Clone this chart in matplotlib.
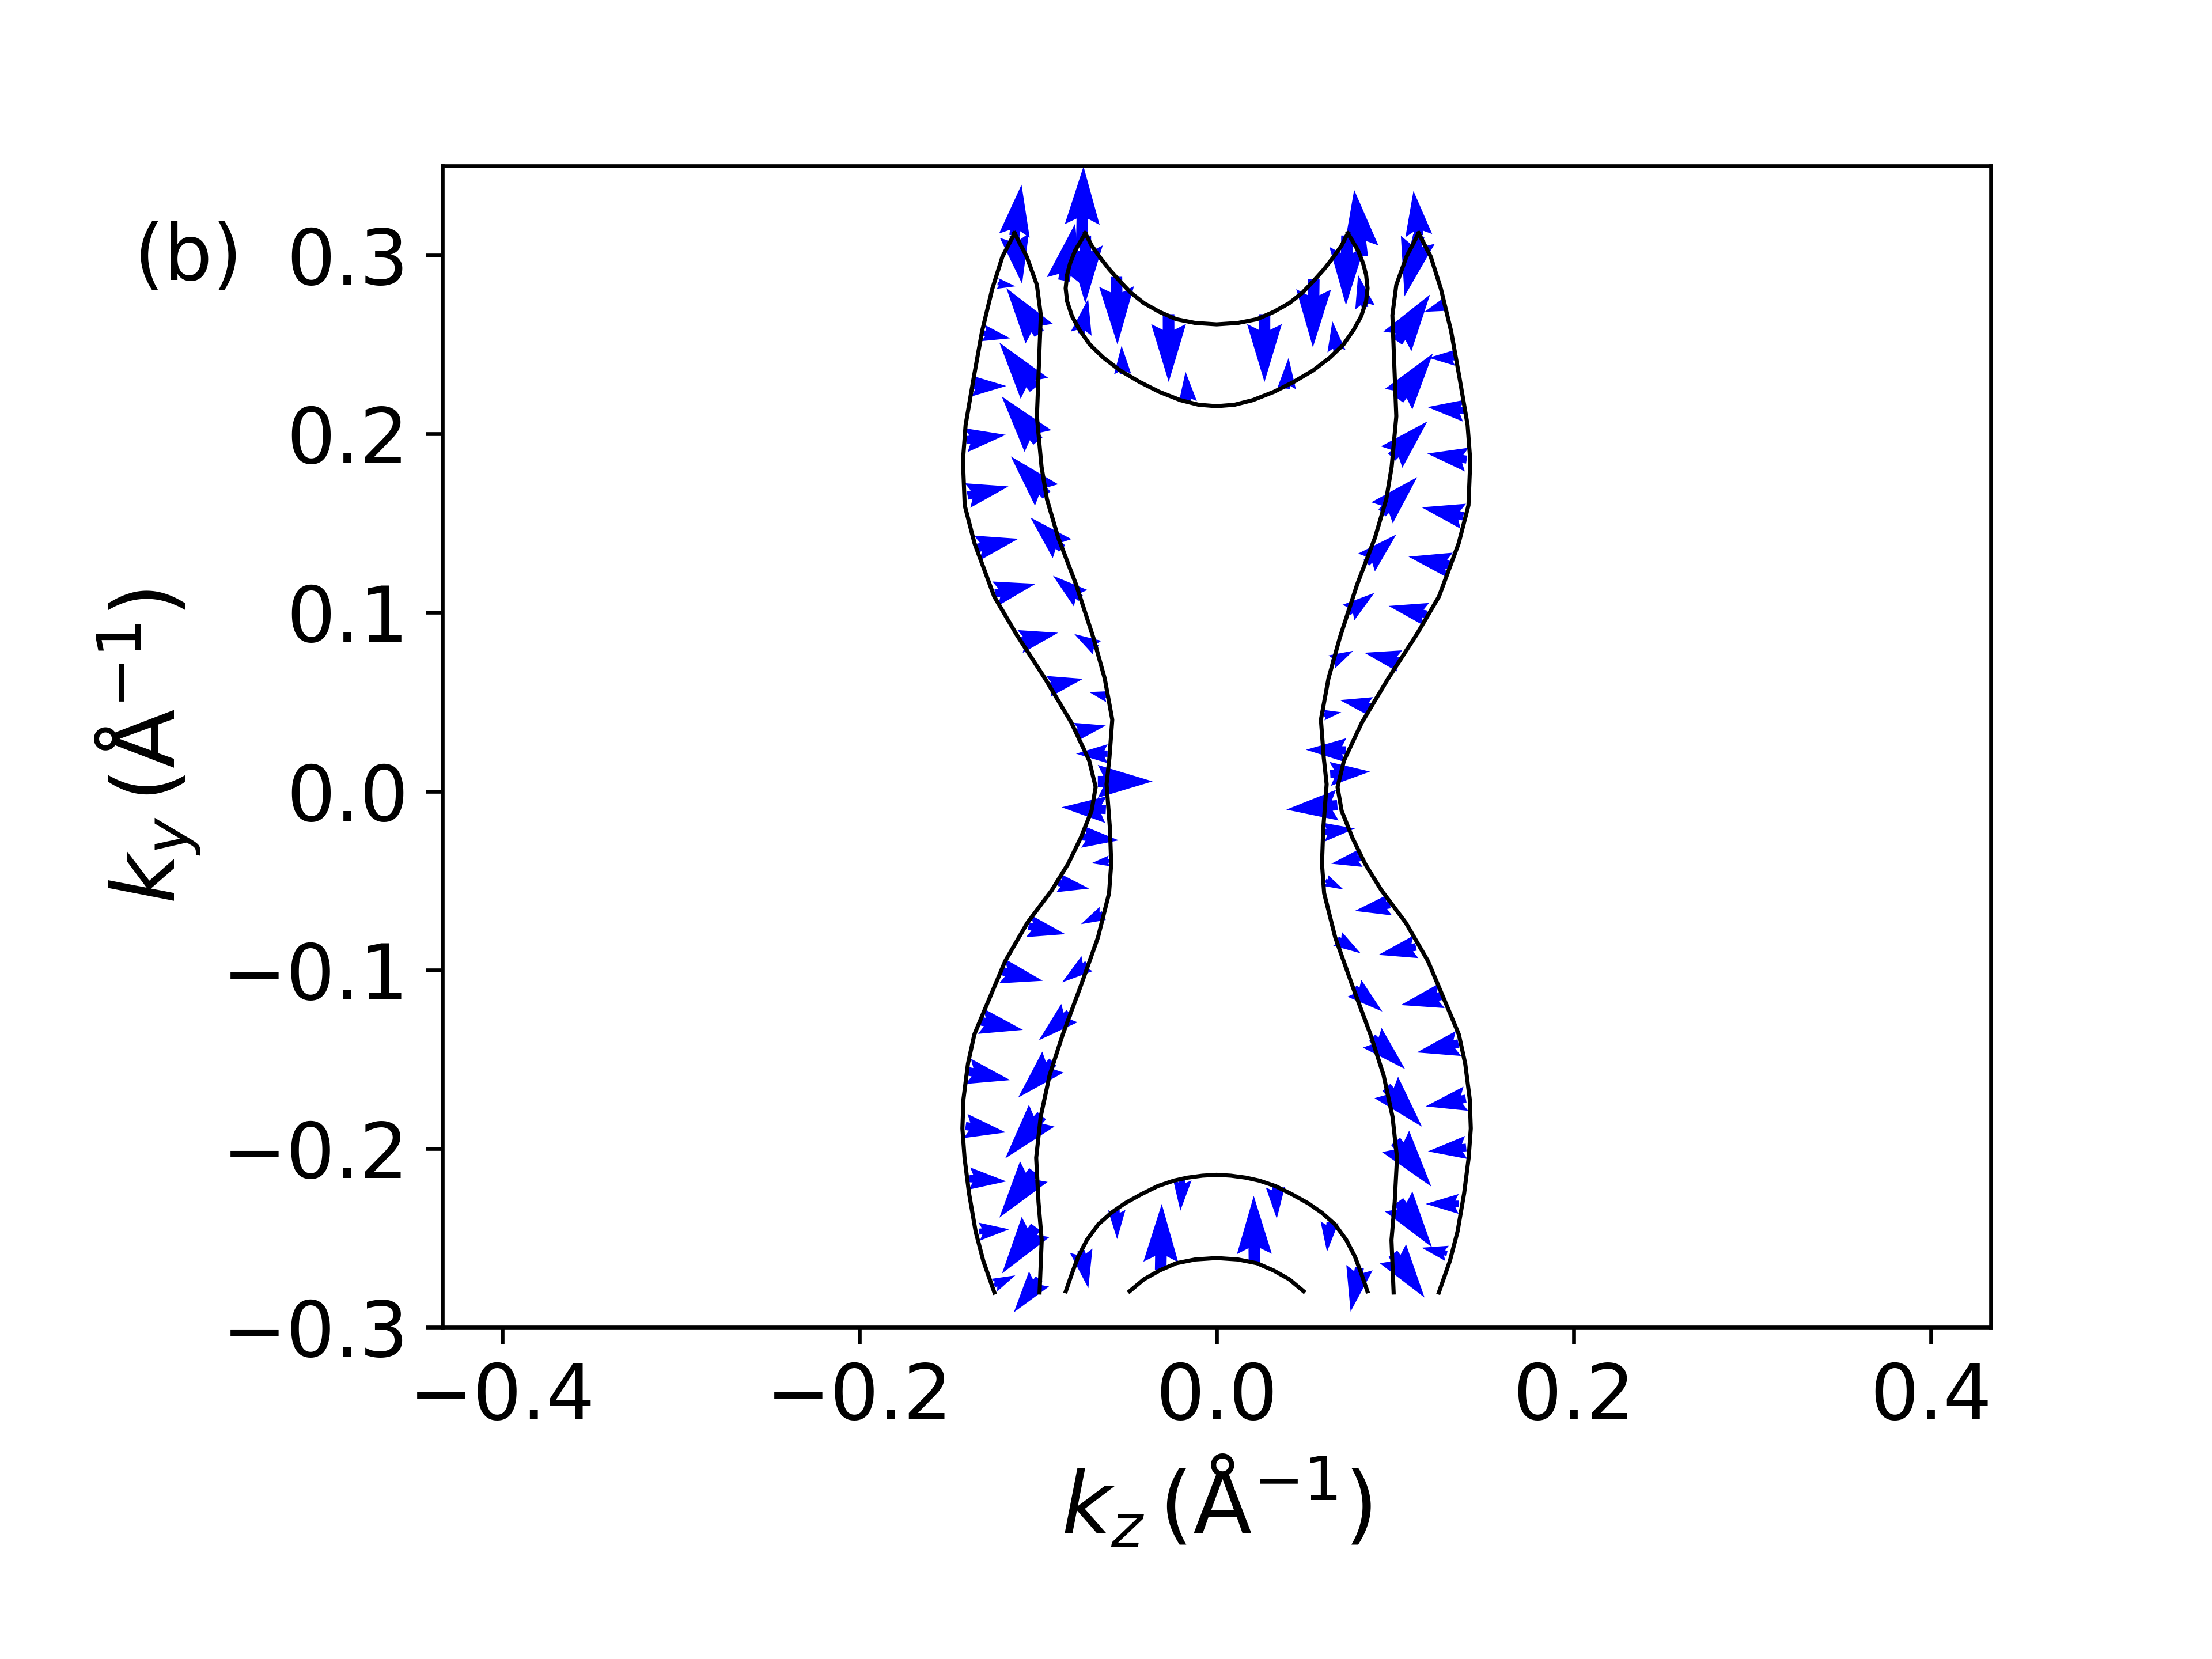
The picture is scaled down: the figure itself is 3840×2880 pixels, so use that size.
from matplotlib import pyplot as plt
import numpy as np

# ---- Fermi contours (kz, ky) in 1/Angstrom ----
# left pair, read from bottom to top
outer_left_kz = [-0.1244, -0.1306, -0.1349, -0.1386, -0.1411, -0.1423, -0.1417, -0.1392, -0.1356, -0.1294,
                 -0.1183, -0.1059, -0.0923, -0.0831, -0.0760, -0.0700, -0.0677, -0.0713, -0.0813, -0.0960,
                 -0.1120, -0.1245, -0.1355, -0.1410, -0.1420, -0.1405, -0.1358, -0.1313, -0.1256, -0.1199, -0.1131]
outer_left_ky = [-0.2806, -0.2629, -0.2464, -0.2249, -0.2052, -0.1888, -0.1723, -0.1526, -0.1361, -0.1213,
                 -0.0950, -0.0736, -0.0555, -0.0406, -0.0260, -0.0110, 0.0023, 0.0171, 0.0384, 0.0630,
                 0.0877, 0.1090, 0.1387, 0.1600, 0.1850, 0.2050, 0.2324, 0.2574, 0.2811, 0.2992, 0.3123]
inner_left_kz = [-0.0991, -0.0979, -0.0997, -0.1010, -0.0985, -0.0935, -0.0861, -0.0763, -0.0664, -0.0602,
                 -0.0590, -0.0597, -0.0616, -0.0600, -0.0584, -0.0626, -0.0690, -0.0787, -0.0887, -0.0950,
                 -0.0980, -0.1006, -0.0995, -0.0984, -0.1006, -0.1063, -0.1131]
inner_left_ky = [-0.2806, -0.2513, -0.2300, -0.2052, -0.1823, -0.1590, -0.1361, -0.1097, -0.0818, -0.0571,
                 -0.0406, -0.0210, 0.0039, 0.0187, 0.0400, 0.0630, 0.0860, 0.1158, 0.1420, 0.1635,
                 0.1816, 0.2098, 0.2380, 0.2664, 0.2834, 0.2992, 0.3123]
# right pair
outer_right_kz = [0.1244, 0.1306, 0.1349, 0.1386, 0.1411, 0.1423, 0.1417, 0.1392, 0.1356, 0.1294,
                  0.1183, 0.1059, 0.0923, 0.0831, 0.0760, 0.0700, 0.0677, 0.0713, 0.0813, 0.0960,
                  0.1120, 0.1245, 0.1355, 0.1410, 0.1420, 0.1405, 0.1358, 0.1313, 0.1256, 0.1199, 0.1131]
outer_right_ky = outer_left_ky
inner_right_kz = [0.0991, 0.0979, 0.0997, 0.1010, 0.0985, 0.0935, 0.0861, 0.0763, 0.0664, 0.0602,
                  0.0590, 0.0597, 0.0616, 0.0600, 0.0584, 0.0626, 0.0690, 0.0787, 0.0887, 0.0950,
                  0.0980, 0.1006, 0.0995, 0.0984, 0.1006, 0.1063, 0.1131]
inner_right_ky = inner_left_ky
# top pocket (upper and lower arcs)
top_upper_kz = [-0.0735, -0.0700, -0.0656, -0.0600, -0.0543, -0.0480, -0.0407, -0.0320, -0.0226, -0.0120, 0.0,
                0.0120, 0.0226, 0.0320, 0.0407, 0.0480, 0.0543, 0.0600, 0.0656, 0.0700, 0.0735]
top_upper_ky = [0.3123, 0.3055, 0.2992, 0.2920, 0.2856, 0.2790, 0.2732, 0.2683, 0.2642, 0.2621, 0.2613,
                0.2621, 0.2642, 0.2683, 0.2732, 0.2790, 0.2856, 0.2920, 0.2992, 0.3055, 0.3123]
top_lower_kz = [-0.0735, -0.0792, -0.0820, -0.0837, -0.0845, -0.0837, -0.0810, -0.0769, -0.0710, -0.0633,
                -0.0540, -0.0430, -0.0320, -0.0203, -0.0100, 0.0, 0.0100, 0.0203, 0.0320, 0.0430,
                0.0540, 0.0633, 0.0710, 0.0769, 0.0810, 0.0837, 0.0845, 0.0837, 0.0820, 0.0792, 0.0735]
top_lower_ky = [0.3123, 0.3026, 0.2955, 0.2890, 0.2815, 0.2743, 0.2660, 0.2585, 0.2500, 0.2426,
                0.2355, 0.2290, 0.2235, 0.2189, 0.2163, 0.2155, 0.2163, 0.2189, 0.2235, 0.2290,
                0.2355, 0.2426, 0.2500, 0.2585, 0.2660, 0.2743, 0.2815, 0.2890, 0.2955, 0.3026, 0.3123]
# bottom arcs
bot_outer_kz = [-0.0844, -0.0810, -0.0775, -0.0725, -0.0663, -0.0590, -0.0514, -0.0420, -0.0329, -0.0240, -0.0163,
                -0.0080, 0.0, 0.0080, 0.0163, 0.0240, 0.0329, 0.0420, 0.0514, 0.0590, 0.0663, 0.0725,
                0.0775, 0.0810, 0.0844]
bot_outer_ky = [-0.2799, -0.2700, -0.2606, -0.2510, -0.2425, -0.2360, -0.2307, -0.2255, -0.2210, -0.2180, -0.2163,
                -0.2152, -0.2147, -0.2152, -0.2163, -0.2180, -0.2210, -0.2255, -0.2307, -0.2360, -0.2425, -0.2510,
                -0.2606, -0.2700, -0.2799]
bot_inner_kz = [-0.0487, -0.0407, -0.0320, -0.0226, -0.0120, 0.0, 0.0120, 0.0226, 0.0320, 0.0407, 0.0487]
bot_inner_ky = [-0.2799, -0.2732, -0.2683, -0.2642, -0.2621, -0.2613, -0.2621, -0.2642, -0.2683, -0.2732, -0.2799]

# ---- spin texture: arrow tail (kz, ky) and components (sz, sy) ----
outer_left_arrow_kz = [-0.1132, -0.1132, -0.1226, -0.1308, -0.1371, -0.1403, -0.1394, -0.1342, -0.1239, -0.1100, -0.0942,
                       -0.0790, -0.0665, -0.0752, -0.0887, -0.1053, -0.1201, -0.1321, -0.1390, -0.1405,
                       -0.1384, -0.1329, -0.1245]
outer_left_arrow_ky = [0.3110, 0.3110, 0.2842, 0.2565, 0.2268, 0.1965, 0.1655, 0.1361, 0.1106, 0.0838, 0.0587,
                       0.0332, 0.0055, -0.0255, -0.0513, -0.0755, -0.1007, -0.1287, -0.1568, -0.1874,
                       -0.2168, -0.2465, -0.2765]
outer_left_sz = [0.0040, 0.0043, 0.0100, 0.0153, 0.0194, 0.0223, 0.0229, 0.0232, 0.0226, 0.0213, 0.0194,
                 0.0170, 0.0307, 0.0204, 0.0174, 0.0206, 0.0228, 0.0237, 0.0235, 0.0225,
                 0.0207, 0.0168, 0.0118]
outer_left_sy = [0.0285, -0.0270, -0.0016, -0.0030, 0.0, 0.0030, 0.0051, 0.0052, 0.0055, 0.0049, 0.0042,
                 0.0036, 0.0, -0.0020, -0.0032, -0.0045, -0.0054, -0.0049, -0.0049, -0.0036,
                 -0.0016, 0.0013, 0.0055]

inner_left_arrow_kz = [-0.0993, -0.1020, -0.1000, -0.0952, -0.0865, -0.0761, -0.0668, -0.0610, -0.0610, -0.0620,
                       -0.0600, -0.0637, -0.0725, -0.0824, -0.0916, -0.0979, -0.1023, -0.1013, -0.0994]
inner_left_arrow_ky = [0.2561, 0.2255, 0.1960, 0.1658, 0.1358, 0.1080, 0.0803, 0.0529, 0.0210, -0.0103,
                       -0.0390, -0.0684, -0.0965, -0.1242, -0.1516, -0.1816, -0.2129, -0.2439, -0.2730]
inner_left_sz = [-0.0184, -0.0196, -0.0203, -0.0200, -0.0177, -0.0155, -0.0129, -0.0103, -0.0177, -0.0248,
                 -0.0100, -0.0122, -0.0140, -0.0171, -0.0195, -0.0204, -0.0193, -0.0188, -0.0141]
inner_left_sy = [0.0255, 0.0256, 0.0250, 0.0216, 0.0174, 0.0126, 0.0077, 0.0026, 0.0, 0.0013,
                 -0.0013, -0.0060, -0.0105, -0.0152, -0.0199, -0.0239, -0.0258, -0.0260, -0.0187]

outer_right_arrow_kz = [0.1132, 0.1132, 0.1277, 0.1335, 0.1385, 0.1400, 0.1381, 0.1308, 0.1175, 0.1025, 0.0865,
                        0.0725, 0.0676, 0.0808, 0.0971, 0.1116, 0.1261, 0.1354, 0.1395, 0.1397,
                        0.1355, 0.1290]
outer_right_arrow_ky = [0.3110, 0.3110, 0.2723, 0.2426, 0.2130, 0.1856, 0.1539, 0.1265, 0.0990, 0.0729, 0.0474,
                        0.0229, -0.0078, -0.0374, -0.0636, -0.0871, -0.1145, -0.1412, -0.1721, -0.1994,
                        -0.2310, -0.2587]
outer_right_sz = [-0.0030, -0.0080, -0.0113, -0.0148, -0.0204, -0.0221, -0.0233, -0.0234, -0.0212, -0.0198, -0.0175,
                  -0.0225, -0.0286, -0.0166, -0.0197, -0.0210, -0.0230, -0.0233, -0.0225, -0.0214,
                  -0.0185, -0.0142]
outer_right_sy = [0.0250, -0.0340, -0.0040, 0.0, 0.0020, 0.0034, 0.0050, 0.0048, 0.0047, 0.0046, 0.0036,
                  0.0003, -0.0025, -0.0032, -0.0034, -0.0045, -0.0052, -0.0050, -0.0043, -0.0022,
                  0.0, 0.0032]

inner_right_arrow_kz = [0.1012, 0.1019, 0.0980, 0.0926, 0.0839, 0.0738, 0.0645, 0.0599, 0.0636, 0.0600,
                        0.0610, 0.0677, 0.0771, 0.0871, 0.0950, 0.1002, 0.1019, 0.0987]
inner_right_arrow_ky = [0.2518, 0.2194, 0.1870, 0.1558, 0.1280, 0.1000, 0.0724, 0.0426, 0.0097, -0.0229,
                        -0.0500, -0.0826, -0.1103, -0.1380, -0.1658, -0.1960, -0.2296, -0.2589]
inner_right_sz = [0.0183, 0.0192, 0.0200, 0.0197, 0.0167, 0.0145, 0.0120, 0.0099, 0.0223, 0.0175,
                  0.0100, 0.0129, 0.0157, 0.0184, 0.0200, 0.0200, 0.0187, 0.0177]
inner_right_sy = [0.0262, 0.0256, 0.0200, 0.0200, 0.0157, 0.0110, 0.0062, 0.0016, 0.0013, 0.0020,
                  -0.0050, -0.0081, -0.0130, -0.0175, -0.0220, -0.0253, -0.0257, -0.0245]

top_upper_arrow_kz = [-0.0735, -0.0561, -0.0269, 0.0268, 0.0544, 0.0730]
top_upper_arrow_ky = [0.3110, 0.2879, 0.2670, 0.2670, 0.2865, 0.3110]
top_upper_sz = [0.0, 0.0006, 0.0001, 0.0, -0.0005, -0.0006]
top_upper_sy = [-0.0380, -0.0379, -0.0380, -0.0380, -0.0381, -0.0390]

top_lower_arrow_kz = [-0.0755, -0.0855, -0.0758, -0.0526, -0.0161, 0.0392, 0.0671, 0.0831, 0.0815]
top_lower_arrow_ky = [0.3050, 0.2858, 0.2561, 0.2335, 0.2180, 0.2253, 0.2463, 0.2708, 0.2993]
top_lower_sz = [0.0010, 0.0063, 0.0039, -0.0006, -0.0013, 0.0011, -0.0023, -0.0039, -0.0045]
top_lower_sy = [0.0447, 0.0319, 0.0194, 0.0159, 0.0168, 0.0173, 0.0168, 0.0182, 0.0373]

bot_outer_arrow_kz = [-0.0758, -0.0559, -0.0192, 0.0329, 0.0632, 0.0800]
bot_outer_arrow_ky = [-0.2572, -0.2344, -0.2175, -0.2216, -0.2412, -0.2667]
bot_outer_sz = [0.0040, 0.0002, -0.0011, 0.0008, -0.0014, -0.0050]
bot_outer_sy = [-0.0210, -0.0163, -0.0173, -0.0177, -0.0166, -0.0246]

bot_inner_arrow_kz = [-0.0313, 0.0212]
bot_inner_arrow_ky = [-0.2680, -0.2638]
bot_inner_sz = [0.0006, -0.0004]
bot_inner_sy = [0.0370, 0.0373]

plt.rcParams['font.size'] = 16
fig = plt.figure(figsize=(6.4, 4.8), dpi=600)
fig.subplots_adjust(left=0.2, right=0.9, bottom=0.2, top=0.9)
ax = fig.add_subplot(111)

arrow_kz = np.concatenate([outer_left_arrow_kz, inner_left_arrow_kz, outer_right_arrow_kz, inner_right_arrow_kz,
                           top_upper_arrow_kz, top_lower_arrow_kz, bot_outer_arrow_kz, bot_inner_arrow_kz])
arrow_ky = np.concatenate([outer_left_arrow_ky, inner_left_arrow_ky, outer_right_arrow_ky, inner_right_arrow_ky,
                           top_upper_arrow_ky, top_lower_arrow_ky, bot_outer_arrow_ky, bot_inner_arrow_ky])
spin_z = np.concatenate([outer_left_sz, inner_left_sz, outer_right_sz, inner_right_sz,
                         top_upper_sz, top_lower_sz, bot_outer_sz, bot_inner_sz])
spin_y = np.concatenate([outer_left_sy, inner_left_sy, outer_right_sy, inner_right_sy,
                         top_upper_sy, top_lower_sy, bot_outer_sy, bot_inner_sy])
ax.quiver(arrow_kz, arrow_ky, spin_z, spin_y, color='b', angles='xy', scale_units='xy', scale=1,
          width=0.0075, zorder=1)

contours = [(outer_left_kz, outer_left_ky), (inner_left_kz, inner_left_ky),
            (outer_right_kz, outer_right_ky), (inner_right_kz, inner_right_ky),
            (top_upper_kz, top_upper_ky), (top_lower_kz, top_lower_ky),
            (bot_outer_kz, bot_outer_ky), (bot_inner_kz, bot_inner_ky)]
for kz, ky in contours:
    ax.plot(kz, ky, 'k-', lw=0.85, zorder=2)

ax.set_xlim(-0.4334, 0.4334)
ax.set_ylim(-0.3, 0.35)
ax.set_xticks([-0.4, -0.2, 0.0, 0.2, 0.4])
ax.set_yticks([-0.3, -0.2, -0.1, 0.0, 0.1, 0.2, 0.3])
ax.set_xlabel(r'$k_z\,(\mathrm{\AA}^{-1})$', fontsize=18)
ax.set_ylabel(r'$k_y\,(\mathrm{\AA}^{-1})$', fontsize=18)
fig.text(0.0605, 0.8444, '(b)', ha='left', va='center', fontsize=16)

fig.savefig('out.png', dpi=600)
